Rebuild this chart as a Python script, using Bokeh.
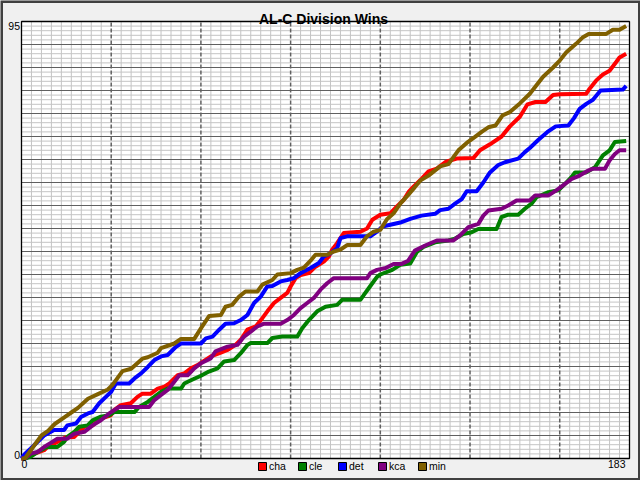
from bokeh.plotting import figure
from bokeh.models import Range1d, Label, Legend, LegendItem
from bokeh.embed import file_html
from bokeh.resources import INLINE

# ---------------- data (days since season start, cumulative wins) -------------
title_text = "AL-C Division Wins"
teams = ["cha", "cle", "det", "kca", "min"]
x_ticks = [0, 183]
y_ticks = [0, 95]
x_minor_step, x_major_step = 3, 27      # grid spacing in days
y_minor_step, y_major_step = 1, 5       # grid spacing in wins

cha_days = [0, 1, 3.8, 6.8, 7.8, 10.8, 13.3, 15.9, 17.4, 18.9,
            21.4, 23.9, 26.9, 27.9, 29.9, 32.9, 34.9, 36.4, 38.9, 41,
            43, 44.5, 46, 47, 49, 51, 53, 55.5, 57, 60,
            62, 64.4, 66, 68, 70.5, 72.5, 74, 76, 78, 80,
            81, 82.5, 84, 86.5, 88.5, 91, 92.5, 93.5, 95, 97,
            102, 104, 105.6, 108, 111, 113, 115, 116.6, 118, 120.4,
            122.5, 125, 127.5, 129.5, 131, 136, 138, 141, 144.5, 147,
            150, 152.3, 154.7, 157.7, 160, 162, 170, 171, 173, 175,
            177, 179, 180, 182]
cha_wins = [0, 0, 1, 1.8, 2.5, 3.6, 4.6, 4.7, 5.8, 6.9,
            7.2, 8.7, 9.4, 10.5, 11.6, 12, 13.4, 14.1, 14.1, 15.2,
            15.6, 16.3, 17.4, 18.1, 18.5, 19.6, 20.3, 21.5, 22.2, 23,
            23.6, 24.7, 25.8, 28, 28.7, 30.5, 32, 33.8, 34.9, 36,
            37.4, 39.2, 39.9, 40.3, 41.7, 42.8, 43.9, 45.4, 46.8, 49,
            49.3, 50, 51.9, 53, 53.3, 54.8, 56.2, 58, 59.1, 60.8,
            62.4, 63, 64.4, 64.9, 65.2, 65.3, 67, 68.3, 70, 72.2,
            74.3, 77, 77.5, 77.5, 79, 79.2, 79.3, 80.4, 82.2, 83.5,
            84.3, 86.2, 87.2, 88]

cle_days = [0, 1, 2.8, 4.8, 6.8, 7.8, 10.8, 12.8, 13.8, 15.9,
            17.4, 19.9, 21.4, 23.9, 26.4, 27.9, 34, 35.4, 38, 40,
            42, 44, 48, 49, 51, 54, 56.4, 59, 61, 64,
            66, 68, 69, 74, 75.5, 78.5, 83, 84.5, 86.5, 89,
            91.5, 95, 96.5, 102, 103, 105, 107, 108, 111.6, 114,
            117, 119, 121, 124.5, 128.5, 130.5, 133, 135.5, 137.5, 143,
            144.5, 146.5, 149.5, 151.5, 153.5, 155, 158.6, 161.6, 163.6, 165.6,
            166.6, 170, 172.6, 175, 177, 178.6, 182]
cle_wins = [0, 0, 0.4, 1.4, 2.2, 2.5, 2.5, 3.6, 4.7, 5.8,
            6.9, 7.2, 8.3, 9.1, 9.4, 10.1, 10.1, 11.2, 12.3, 13.4,
            14.5, 15.2, 15.2, 16.3, 17, 18, 18.9, 19.6, 21.1, 21.4,
            22.9, 24.7, 25.1, 25.1, 26.2, 26.5, 26.5, 28.3, 30.1, 32,
            33, 33.4, 34.5, 34.5, 35.5, 37.5, 39.5, 40, 41, 42.1,
            42.4, 44.9, 46, 47, 47.4, 47.8, 48.8, 49.2, 49.9, 49.9,
            52.5, 53, 53, 54.3, 55.4, 56.8, 57.9, 58.3, 59.7, 61.2,
            62.2, 62.2, 63.3, 65.9, 67, 68.8, 69]

det_days = [0, 1, 2.8, 4.8, 6.8, 9.8, 12.8, 13.8, 16.4, 17.9,
            20, 21.4, 23.4, 25.4, 27, 28.4, 32.4, 34, 36, 38,
            40, 42, 44, 46.5, 48, 54, 55.5, 57.5, 59.5, 61.4,
            64, 66, 68, 70, 72, 74, 75.5, 78, 80, 82,
            84, 87, 89.5, 91, 93, 95, 96, 98, 105, 107,
            108.6, 111, 114, 117, 120.4, 124.5, 126, 128.5, 130.5, 132.5,
            134, 137, 139, 141, 143.5, 145.5, 149.5, 151.5, 153, 155.6,
            158.3, 160.8, 164.6, 166.3, 168, 170, 172, 174.3, 181, 182]
det_wins = [0, 1, 2.2, 3.6, 5, 6.2, 6.2, 7.2, 7.6, 9,
            9.8, 10.1, 12, 13.4, 14.5, 16.3, 16.3, 17.4, 18.5, 19.9,
            21.4, 22.2, 22.5, 24.3, 25, 25, 26.1, 26.5, 28, 29.3,
            29.4, 30.1, 31.2, 33.8, 35.2, 37.4, 37.5, 38.5, 38.8, 39.2,
            40.3, 41.4, 42.5, 43.9, 44.6, 45.7, 47.9, 48.3, 48.3, 49.3,
            50.4, 50.8, 51.3, 52.1, 52.8, 53.2, 54, 54.3, 55.4, 56.4,
            58.1, 58.1, 60, 62.2, 63.8, 64.4, 65.2, 66.6, 67.5, 69.3,
            71, 72.2, 72.4, 74, 76, 77.1, 78, 80, 80.2, 81]

kca_days = [0, 1, 2.8, 4.8, 6.8, 8.8, 10.8, 13.8, 15.9, 18.9,
            21.4, 23.9, 26.4, 29.4, 38.4, 40, 42, 44, 46, 47.5,
            50, 52, 54, 56, 57, 58.4, 62, 65, 67, 69,
            71, 73, 78, 80, 82, 84, 86, 88, 90, 92,
            94, 104, 105, 107, 109.6, 112, 114.4, 116.4, 118.4, 121.5,
            125, 130, 132, 134.5, 137.5, 139, 140.5, 144.5, 146.5, 149,
            153, 154.6, 158.6, 161, 163.6, 165.6, 168, 170.6, 172, 175.6,
            177, 178.6, 180, 182]
kca_wins = [0, 0, 1.1, 1.4, 2.5, 3.4, 4.3, 4.3, 5.4, 5.8,
            7.2, 8.3, 9.8, 11.2, 11.2, 12.7, 13.8, 14.9, 16.7, 18.1,
            18.1, 19.6, 20.7, 21.4, 21.8, 23.3, 24.3, 24.7, 26.5, 27.6,
            28.7, 29.3, 29.3, 30.1, 31.2, 32.7, 33.8, 34.9, 36.7, 38.1,
            39.2, 39.2, 40.3, 41, 41.4, 42.3, 42.3, 43, 45.2, 46.3,
            47.4, 47.4, 48.5, 50.3, 51, 52.8, 53.9, 54.3, 55, 56.1,
            56.1, 57.2, 57.2, 58.3, 59.7, 60.8, 61.5, 62.6, 63, 63,
            64.8, 66.2, 67, 67]

min_days = [0, 1, 6, 8, 10, 13, 15, 17, 20, 23,
            26, 27.4, 30.4, 33, 36.4, 38, 41, 42, 46, 48,
            52, 54, 56.5, 60, 61.4, 63.4, 65.5, 67.4, 71, 72.5,
            75.5, 77, 81, 83, 85, 87, 88.5, 92, 94, 96,
            98, 102, 104, 106, 108, 110, 112, 114, 116, 118.4,
            120, 122.5, 126, 128.5, 130, 131.5, 134, 136.5, 138.5, 140.5,
            142.7, 144.8, 147, 150, 153, 155.7, 157, 160, 162, 164,
            167, 169, 170.7, 176, 178, 180, 182]
min_wins = [0, 0, 5, 6, 7.5, 9, 10, 11, 13, 14,
            15, 16, 19, 19.5, 21.7, 22, 23, 24, 25, 26,
            26, 28.3, 31, 31.2, 33, 33.4, 35.2, 36.3, 36.3, 37.8,
            38.8, 40, 40.3, 41, 41.5, 43, 44.3, 44.3, 45, 45.4,
            46.4, 46.4, 48.3, 49.3, 49.7, 52, 53.3, 55.4, 57, 59,
            60.4, 61.5, 63.5, 64, 65.5, 67, 68.6, 69.9, 71, 72,
            72.4, 74.6, 75.3, 77.2, 79.3, 81.8, 83, 85, 86.5, 88.3,
            90.2, 91.6, 92.3, 92.3, 93.2, 93.2, 94]

series = {"cha": (cha_days, cha_wins), "cle": (cle_days, cle_wins),
          "det": (det_days, det_wins), "kca": (kca_days, kca_wins),
          "min": (min_days, min_wins)}
colors = {"cha": "#ff0000", "cle": "#008000", "det": "#0000ff",
          "kca": "#800080", "min": "#806000"}

# ---------------- layout (pixels) ---------------------------------------------
W, H = 640, 480
PL, PR, PT, PB = 21, 629, 21, 458          # plot-area edges in canvas pixels
x0, x1 = x_ticks[0], x_ticks[-1]
y0, y1 = y_ticks[0], y_ticks[-1]
sx = (PR - PL) / (x1 - x0)
sy = (PB - PT) / (y1 - y0)
xr = Range1d(x0 - PL / sx, x1 + (W - PR) / sx)
yr = Range1d(y0 - (H - PB) / sy, y1 + PT / sy)

FONT = "Liberation Sans"
BG = "#f0f0f0"
p = figure(width=W, height=H, output_backend="svg", toolbar_location=None,
           x_range=xr, y_range=yr, title=None,
           x_axis_location=None, y_axis_location=None, min_border=0)
p.background_fill_color = BG
p.border_fill_color = BG
p.outline_line_color = None
p.xgrid.visible = False
p.ygrid.visible = False

# white plotting area
p.quad(left=[x0], right=[x1], bottom=[y0], top=[y1], fill_color="white",
       line_color=None)

# grid lines (only inside the plotting area)
xs_minor = [v for v in range(x0, x1 + 1, x_minor_step) if v % x_major_step]
ys_minor = [v for v in range(y0, y1 + 1, y_minor_step) if v % y_major_step]
xs_major = list(range(x0 + x_major_step, x1, x_major_step))
ys_major = list(range(y0 + y_major_step, y1, y_major_step))
MINOR = "#c4c4c4"
MAJOR = "#606060"
p.segment(x0=xs_minor, x1=xs_minor, y0=[y0] * len(xs_minor),
          y1=[y1] * len(xs_minor), line_color=MINOR, line_width=1)
p.segment(x0=[x0] * len(ys_minor), x1=[x1] * len(ys_minor), y0=ys_minor,
          y1=ys_minor, line_color=MINOR, line_width=1)
p.segment(x0=[x0] * len(ys_major), x1=[x1] * len(ys_major), y0=ys_major,
          y1=ys_major, line_color=MAJOR, line_width=1)
p.segment(x0=xs_major, x1=xs_major, y0=[y0] * len(xs_major),
          y1=[y1] * len(xs_major), line_color=MAJOR, line_width=1.5,
          line_dash="4 2")

# black frame of the plotting area
p.quad(left=[x0], right=[x1], bottom=[y0], top=[y1], fill_alpha=0,
       line_color="black", line_width=1.3)

# outer window frame
p.quad(left=[xr.start], right=[xr.end], bottom=[yr.start], top=[yr.end],
       fill_alpha=0, line_color="#404040", line_width=5)

for t in teams:
    d, w = series[t]
    p.line(d, w, line_color=colors[t], line_width=4, line_join="round")

# legend with square swatches (swatch renderers hold no visible data)
nan = float("nan")
items = []
for t in teams:
    r = p.quad(left=[nan], right=[nan], top=[nan], bottom=[nan],
               fill_color=colors[t], line_color="black", line_width=1)
    items.append(LegendItem(label=t, renderers=[r]))
legend = Legend(items=items, orientation="horizontal", location=(257, 8),
                padding=0, margin=0, spacing=8, glyph_width=10, glyph_height=10,
                label_standoff=2, label_width=20, label_height=10,
                label_text_font=FONT, label_text_font_size="10.5px",
                label_text_color="black",
                background_fill_alpha=0, border_line_alpha=0)
p.add_layout(legend, "center")

# title and end labels
xmid = (x0 + x1) / 2
p.add_layout(Label(x=xmid, y=y1, text=title_text, text_align="center",
                   text_baseline="alphabetic", x_offset=-2, y_offset=3,
                   text_font=FONT, text_font_size="14px",
                   text_font_style="bold", text_color="black"))
lab = dict(text_font=FONT, text_font_size="10.5px", text_color="black")
p.add_layout(Label(x=x0, y=y1, text=str(y1), text_align="right",
                   text_baseline="top", x_offset=-1.5, **lab))
p.add_layout(Label(x=x0, y=y0, text=str(y0), text_align="right",
                   text_baseline="bottom", x_offset=-1.5, **lab))
p.add_layout(Label(x=x0, y=y0, text=str(x0), text_align="left",
                   text_baseline="top", y_offset=-1, **lab))
p.add_layout(Label(x=x1, y=y0, text=str(x1), text_align="right",
                   text_baseline="top", x_offset=-4, y_offset=-1, **lab))

open("out.html", "w").write(file_html(p, INLINE))
